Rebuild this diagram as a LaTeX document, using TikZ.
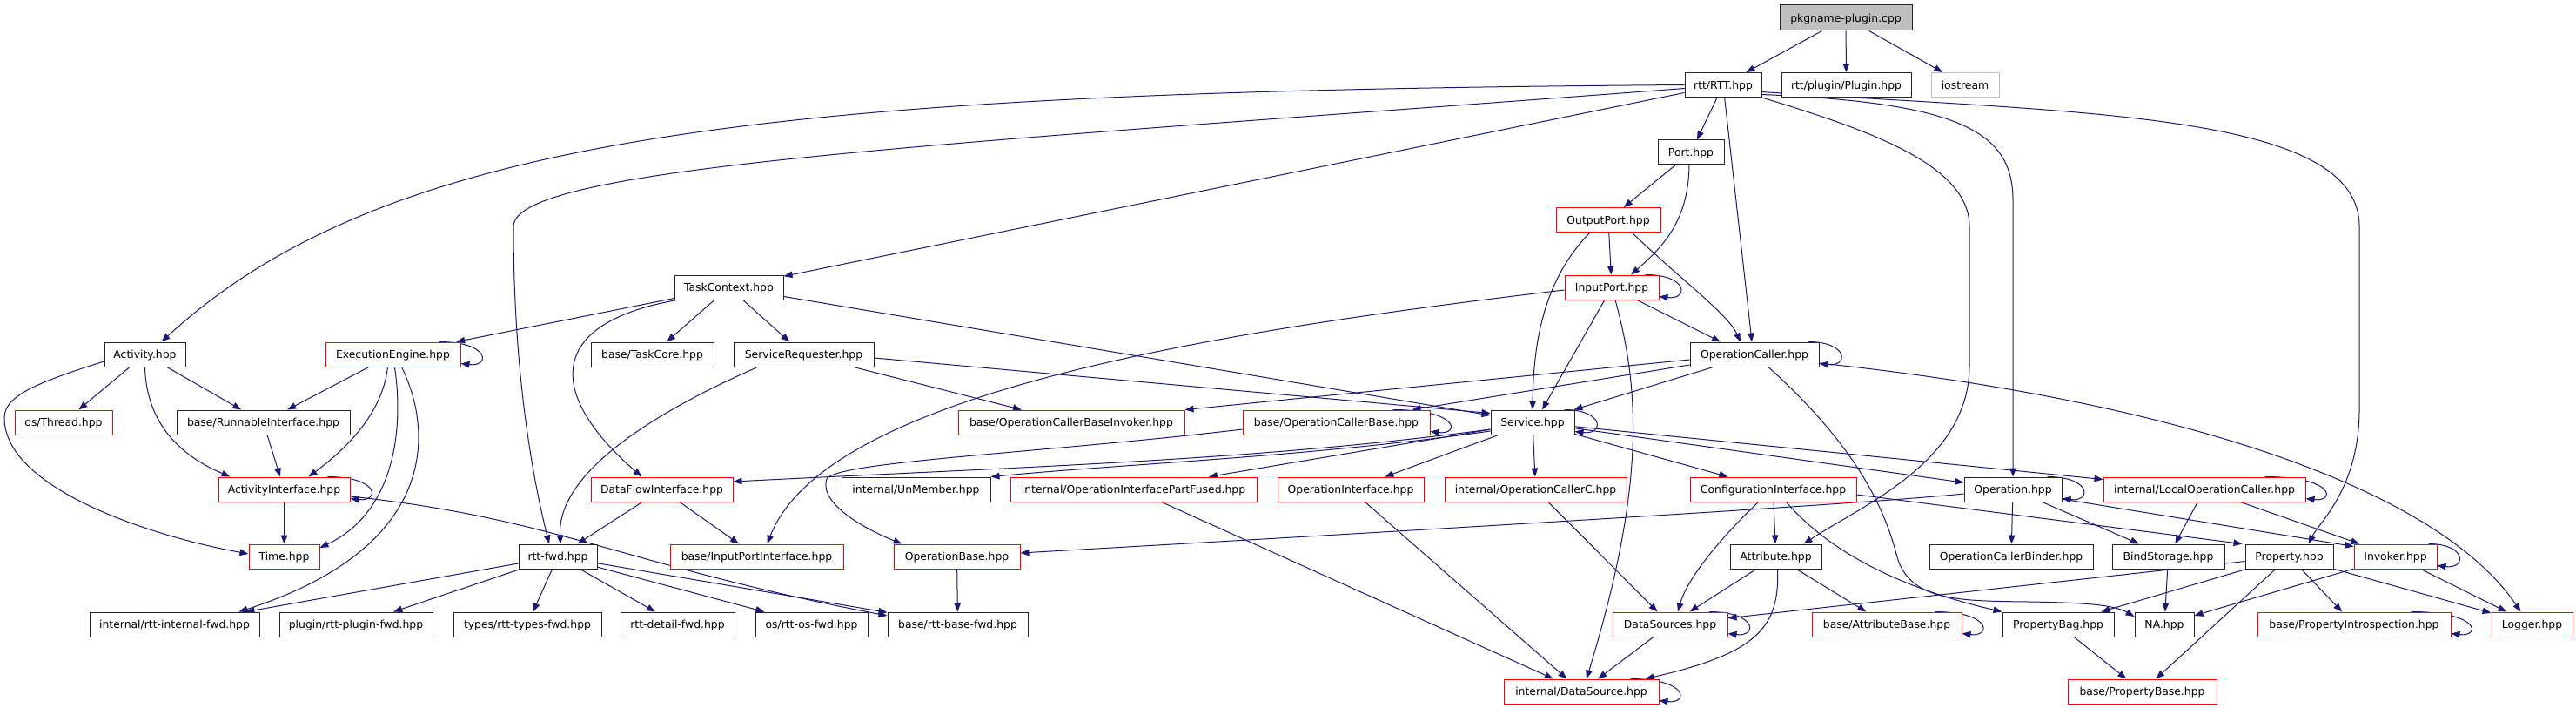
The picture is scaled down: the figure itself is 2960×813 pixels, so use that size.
\documentclass[tikz,border=0pt]{standalone}
\usepackage{fontspec}
\setmainfont{DejaVu Sans}
\usetikzlibrary{arrows.meta,calc}
\definecolor{edgec}{HTML}{191970}
\definecolor{rootgray}{HTML}{BFBFBF}
\pgfdeclarelayer{bg}
\pgfdeclarelayer{edgelayer}
\pgfsetlayers{bg,edgelayer,main}
\newcommand\sloop[2]{\draw[e] ($(#1.north east)+(-#2,0)$) .. controls ($(#1.north east)+(34,0)$) and ($(#1.south east)+(34,0)$) .. ($(#1.south east)+(0,-4)$);}
\tikzset{
  nb/.style={draw=black!85, line width=1pt, minimum height=28pt, inner sep=0pt, fill=white,
    font=\fontsize{12.4pt}{14pt}\selectfont, text height=9.4pt, text depth=0pt},
  nr/.style={nb, draw=red},
  ngr/.style={nb, draw=rootgray},
  e/.style={draw=edgec, line width=1pt, -{Triangle[length=10pt,width=7.5pt]}},
}
\begin{document}
\begin{tikzpicture}[x=1pt,y=-1pt]
\useasboundingbox (0,0) rectangle (2960,813);
\begin{pgfonlayer}{bg}
\fill[white] (0,0) rectangle (2960,813);
\end{pgfonlayer}
% nodes
\node[nb,minimum width=152pt,minimum height=29pt,fill=rootgray] (root) at (2121,20.5) {pkgname-plugin.cpp};
\node[nb,minimum width=88pt] (rtt) at (1980,97.5) {rtt/RTT.hpp};
\node[nb,minimum width=149pt] (plug) at (2121.5,97.5) {rtt/plugin/Plugin.hpp};
\node[ngr,minimum width=78pt] (ios) at (2258,97.5) {iostream};
\node[nb,minimum width=76pt] (port) at (1943,175) {Port.hpp};
\node[nr,minimum width=120pt] (outp) at (1848,252.5) {OutputPort.hpp};
\node[nr,minimum width=108pt] (inp) at (1852,330) {InputPort.hpp};
\node[nb,minimum width=125pt] (tc) at (837.5,330) {TaskContext.hpp};
\node[nb,minimum width=148pt] (oc) at (2016,407) {OperationCaller.hpp};
\node[nb,minimum width=93pt] (act) at (166.5,407) {Activity.hpp};
\node[nr,minimum width=155pt] (ee) at (451.5,407) {ExecutionEngine.hpp};
\node[nb,minimum width=141pt] (tcore) at (749.5,407) {base/TaskCore.hpp};
\node[nb,minimum width=161pt] (sr) at (923.5,407) {ServiceRequester.hpp};
\node[nr,minimum width=112pt] (thr) at (73,485) {os/Thread.hpp};
\node[nb,minimum width=199pt] (ri) at (302.5,485) {base/RunnableInterface.hpp};
\node[nr,minimum width=260pt] (ocbi) at (1231,485) {base/OperationCallerBaseInvoker.hpp};
\node[nr,minimum width=215pt] (ocb) at (1535.5,485) {base/OperationCallerBase.hpp};
\node[nb,minimum width=96pt] (svc) at (1761,485) {Service.hpp};
\node[nr,minimum width=151pt] (ai) at (326.5,562) {ActivityInterface.hpp};
\node[nr,minimum width=163pt] (dfi) at (760.5,562) {DataFlowInterface.hpp};
\node[nb,minimum width=171pt] (unm) at (1052.5,562) {internal/UnMember.hpp};
\node[nr,minimum width=283pt] (oipf) at (1302.5,562) {internal/OperationInterfacePartFused.hpp};
\node[nr,minimum width=168pt] (oi) at (1552,562) {OperationInterface.hpp};
\node[nr,minimum width=209pt] (occ) at (1764.5,562) {internal/OperationCallerC.hpp};
\node[nr,minimum width=191pt] (ci) at (2037.5,562) {ConfigurationInterface.hpp};
\node[nb,minimum width=112pt] (op) at (2313,562) {Operation.hpp};
\node[nr,minimum width=232pt] (loc) at (2533,562) {internal/LocalOperationCaller.hpp};
\node[nr,minimum width=81pt] (time) at (326.5,639) {Time.hpp};
\node[nb,minimum width=90pt] (rfwd) at (641,639) {rtt-fwd.hpp};
\node[nr,minimum width=199pt] (ipi) at (869.5,639) {base/InputPortInterface.hpp};
\node[nr,minimum width=145pt] (opb) at (1099.5,639) {OperationBase.hpp};
\node[nb,minimum width=105pt] (attr) at (2040.5,639) {Attribute.hpp};
\node[nb,minimum width=188pt] (ocbind) at (2311,639) {OperationCallerBinder.hpp};
\node[nb,minimum width=129pt] (bind) at (2491.5,639) {BindStorage.hpp};
\node[nb,minimum width=101pt] (prop) at (2630.5,639) {Property.hpp};
\node[nr,minimum width=95pt] (inv) at (2752.5,639) {Invoker.hpp};
\node[nb,minimum width=195pt] (irf) at (200.5,717) {internal/rtt-internal-fwd.hpp};
\node[nb,minimum width=176pt] (prf) at (409,717) {plugin/rtt-plugin-fwd.hpp};
\node[nb,minimum width=170pt] (trf) at (606,717) {types/rtt-types-fwd.hpp};
\node[nb,minimum width=131pt] (drf) at (778.5,717) {rtt-detail-fwd.hpp};
\node[nb,minimum width=129pt] (osrf) at (932.5,717) {os/rtt-os-fwd.hpp};
\node[nb,minimum width=161pt] (brf) at (1100.5,717) {base/rtt-base-fwd.hpp};
\node[nr,minimum width=132pt] (dss) at (1919,717) {DataSources.hpp};
\node[nr,minimum width=172pt] (ab) at (2168,717) {base/AttributeBase.hpp};
\node[nb,minimum width=128pt] (pbag) at (2365,717) {PropertyBag.hpp};
\node[nb,minimum width=68pt] (na) at (2487,717) {NA.hpp};
\node[nr,minimum width=222pt] (pi) at (2705,717) {base/PropertyIntrospection.hpp};
\node[nr,minimum width=93pt] (log) at (2909.5,717) {Logger.hpp};
\node[nr,minimum width=178pt] (ds) at (1817,794) {internal/DataSource.hpp};
\node[nr,minimum width=171pt] (pb) at (2461.5,794) {base/PropertyBase.hpp};
% edges
\begin{pgfonlayer}{edgelayer}
\draw[e] (root) -- (rtt);
\draw[e] (root) -- (plug);
\draw[e] (root) -- (ios);
% rtt
\draw[e] (rtt.west) .. controls (900,105) and (450,150) .. ($(act.north)+(19,0)$);
\draw[e] ($(rtt.west)+(0,4)$) .. controls (1100,165) and (590,190) .. (590,260) .. controls (590,440) and (615,560) .. ($(rfwd.north)+(-10,0)$);
\draw[e] (rtt) -- (tc);
\draw[e] (rtt) -- (port);
\draw[e] (rtt) -- ($(oc.north)+(-3,0)$);
\draw[e] (rtt.south east) .. controls (2150,150) and (2263,190) .. (2263,260) -- (2263,420) .. controls (2263,530) and (2140,580) .. ($(attr.north)+(32,0)$);
\draw[e] ($(rtt.east)+(0,11)$) .. controls (2250,118) and (2313,150) .. (2313,230) -- (op.north);
\draw[e] ($(rtt.east)+(0,8)$) .. controls (2400,130) and (2711,130) .. (2711,260) -- (2711,470) .. controls (2711,560) and (2665,600) .. ($(prop.north)+(22,0)$);
% TaskContext
\draw[e] (tc) -- (ee);
\draw[e] (tc) -- (tcore);
\draw[e] (tc) -- (sr);
\draw[e] ($(tc.south west)+(4,0)$) .. controls (630,370) and (625,450) .. ($(dfi.north)+(-23,0)$);
\draw[e] (tc) -- (svc);
% Activity
\draw[e] (act) -- (thr);
\draw[e] (act) -- (ri);
\draw[e] (act.south) .. controls (168,480) and (200,520) .. ($(ai.north west)+(14,0)$);
\draw[e] ($(act.west)+(0,8)$) .. controls (40,440) and (5,455) .. (5,480) .. controls (5,560) and (170,615) .. ($(time.west)+(0,-3)$);
% ExecutionEngine
\sloop{ee}{25}
\draw[e] (ee) -- (ri);
\draw[e] ($(ee.south)+(-6,0)$) .. controls (440,470) and (405,510) .. ($(ai.north)+(28,0)$);
\draw[e] ($(ee.south)+(2,0)$) .. controls (465,500) and (450,590) .. ($(time.east)+(0,-10)$);
\draw[e] ($(ee.south)+(10,0)$) .. controls (500,500) and (500,630) .. ($(irf.north east)+(-24,0)$);
% RunnableInterface, ActivityInterface
\draw[e] (ri) -- (ai);
\sloop{ai}{26}
\draw[e] (ai) -- (time);
\draw[e] ($(ai.east)+(0,8)$) .. controls (640,595) and (720,650) .. ($(brf.west)+(0,-10)$);
% ServiceRequester
\draw[e] ($(sr.south west)+(28,0)$) .. controls (760,470) and (640,540) .. ($(rfwd.north)+(3,0)$);
\draw[e] (sr) -- (ocbi);
\draw[e] ($(sr.east)+(0,4)$) -- ($(svc.north west)+(0,4)$);
% DataFlowInterface
\draw[e] (dfi) -- (rfwd);
\draw[e] (dfi) -- (ipi);
% rtt-fwd
\draw[e] (rfwd) -- (irf);
\draw[e] (rfwd) -- (prf);
\draw[e] (rfwd) -- (trf);
\draw[e] (rfwd) -- (drf);
\draw[e] (rfwd) -- (osrf);
\draw[e] (rfwd) -- (brf);
% Port
\draw[e] (port) -- (outp);
\draw[e] ($(port.south)+(-2,0)$) .. controls (1940,250) and (1915,280) .. ($(inp.north)+(22,0)$);
% OutputPort
\draw[e] (outp) -- (inp);
\draw[e] ($(outp.south)+(27,0)$) .. controls (1930,320) and (1985,360) .. ($(oc.north)+(-16,0)$);
\draw[e] ($(outp.south)+(-21,0)$) .. controls (1775,320) and (1762,390) .. (svc.north);
% InputPort
\sloop{inp}{16}
\draw[e] (inp) -- ($(oc.north)+(-39,0)$);
\draw[e] (inp) -- ($(svc.north)+(11,0)$);
\draw[e] ($(inp.south)+(4,0)$) .. controls (1885,450) and (1890,560) .. ($(ds.north)+(6,0)$);
\draw[e] ($(inp.west)+(0,3)$) .. controls (1400,380) and (950,450) .. ($(ipi.north)+(12,0)$);
% OperationCaller
\sloop{oc}{13}
\draw[e] ($(oc.west)+(0,6)$) -- (ocbi.north east);
\draw[e] ($(oc.west)+(0,12)$) -- ($(ocb.north east)+(-21,0)$);
\draw[e] (oc) -- (svc);
\draw[e] ($(oc.south)+(16,0)$) .. controls (2130,510) and (2165,580) .. (2180,640) .. controls (2195,690) and (2250,690) .. (2330,691) .. controls (2400,692) and (2430,695) .. ($(na.west)+(0,-9)$);
\draw[e] ($(oc.east)+(0,10)$) .. controls (2500,460) and (2800,560) .. ($(log.north)+(-13,0)$);
% OperationCallerBase
\sloop{ocb}{43}
\draw[e] ($(ocb.west)+(0,8)$) .. controls (1200,520) and (960,530) .. (950,550) .. controls (940,580) and (1000,610) .. ($(opb.north west)+(10,0)$);
% Service
\sloop{svc}{12}
\draw[e] ($(svc.west)+(0,8)$) .. controls (1450,528) and (1200,535) .. ($(dfi.east)+(0,-9)$);
\draw[e] ($(svc.west)+(0,10)$) .. controls (1500,525) and (1300,532) .. (unm.north east);
\draw[e] (svc) -- (oipf);
\draw[e] (svc) -- (oi);
\draw[e] (svc) -- (occ);
\draw[e] (svc) -- (ci);
\draw[e] (svc) -- (op);
\draw[e] (svc) -- (loc);
% Operation
\sloop{op}{17}
\draw[e] ($(op.west)+(0,5)$) .. controls (2150,578) and (1700,605) .. ($(opb.east)+(0,-4)$);
\draw[e] (op) -- (ocbind);
\draw[e] (op) -- (bind);
\draw[e] ($(op.east)+(0,11)$) -- ($(inv.north west)+(0,3)$);
% LocalOperationCaller
\sloop{loc}{47}
\draw[e] (loc) -- (bind);
\draw[e] (loc) -- (inv);
% ConfigurationInterface
\draw[e] (ci) -- (attr);
\draw[e] ($(ci.south)+(-17,0)$) .. controls (1985,610) and (1940,660) .. ($(dss.north)+(9,0)$);
\draw[e] ($(ci.south)+(15,0)$) .. controls (2090,620) and (2160,670) .. (pbag.north west);
\draw[e] ($(ci.east)+(0,6)$) -- ($(prop.north west)+(-3,0)$);
% Attribute
\draw[e] (attr) -- (dss);
\draw[e] (attr) -- (ab);
\draw[e] ($(attr.south)+(2,0)$) .. controls (2045,720) and (2020,750) .. ($(ds.north east)+(-16,0)$);
% Property
\draw[e] (prop) -- (dss);
\draw[e] (prop) -- (pbag);
\draw[e] (prop) -- (pb);
\draw[e] (prop) -- (pi);
\draw[e] (prop) -- (log);
% Invoker
\sloop{inv}{10}
\draw[e] (inv) -- (na);
\draw[e] (inv) -- (log);
% others
\draw[e] (bind) -- (na);
\draw[e] (pbag) -- (pb);
\sloop{dss}{22}
\draw[e] (dss) -- (ds);
\sloop{ds}{33}
\sloop{ab}{31}
\sloop{pi}{46}
\draw[e] (occ) -- (dss);
\draw[e] (oi) -- (ds);
\draw[e] (oipf) -- (ds);
\draw[e] (opb) -- (brf);
\end{pgfonlayer}
\end{tikzpicture}
\end{document}
